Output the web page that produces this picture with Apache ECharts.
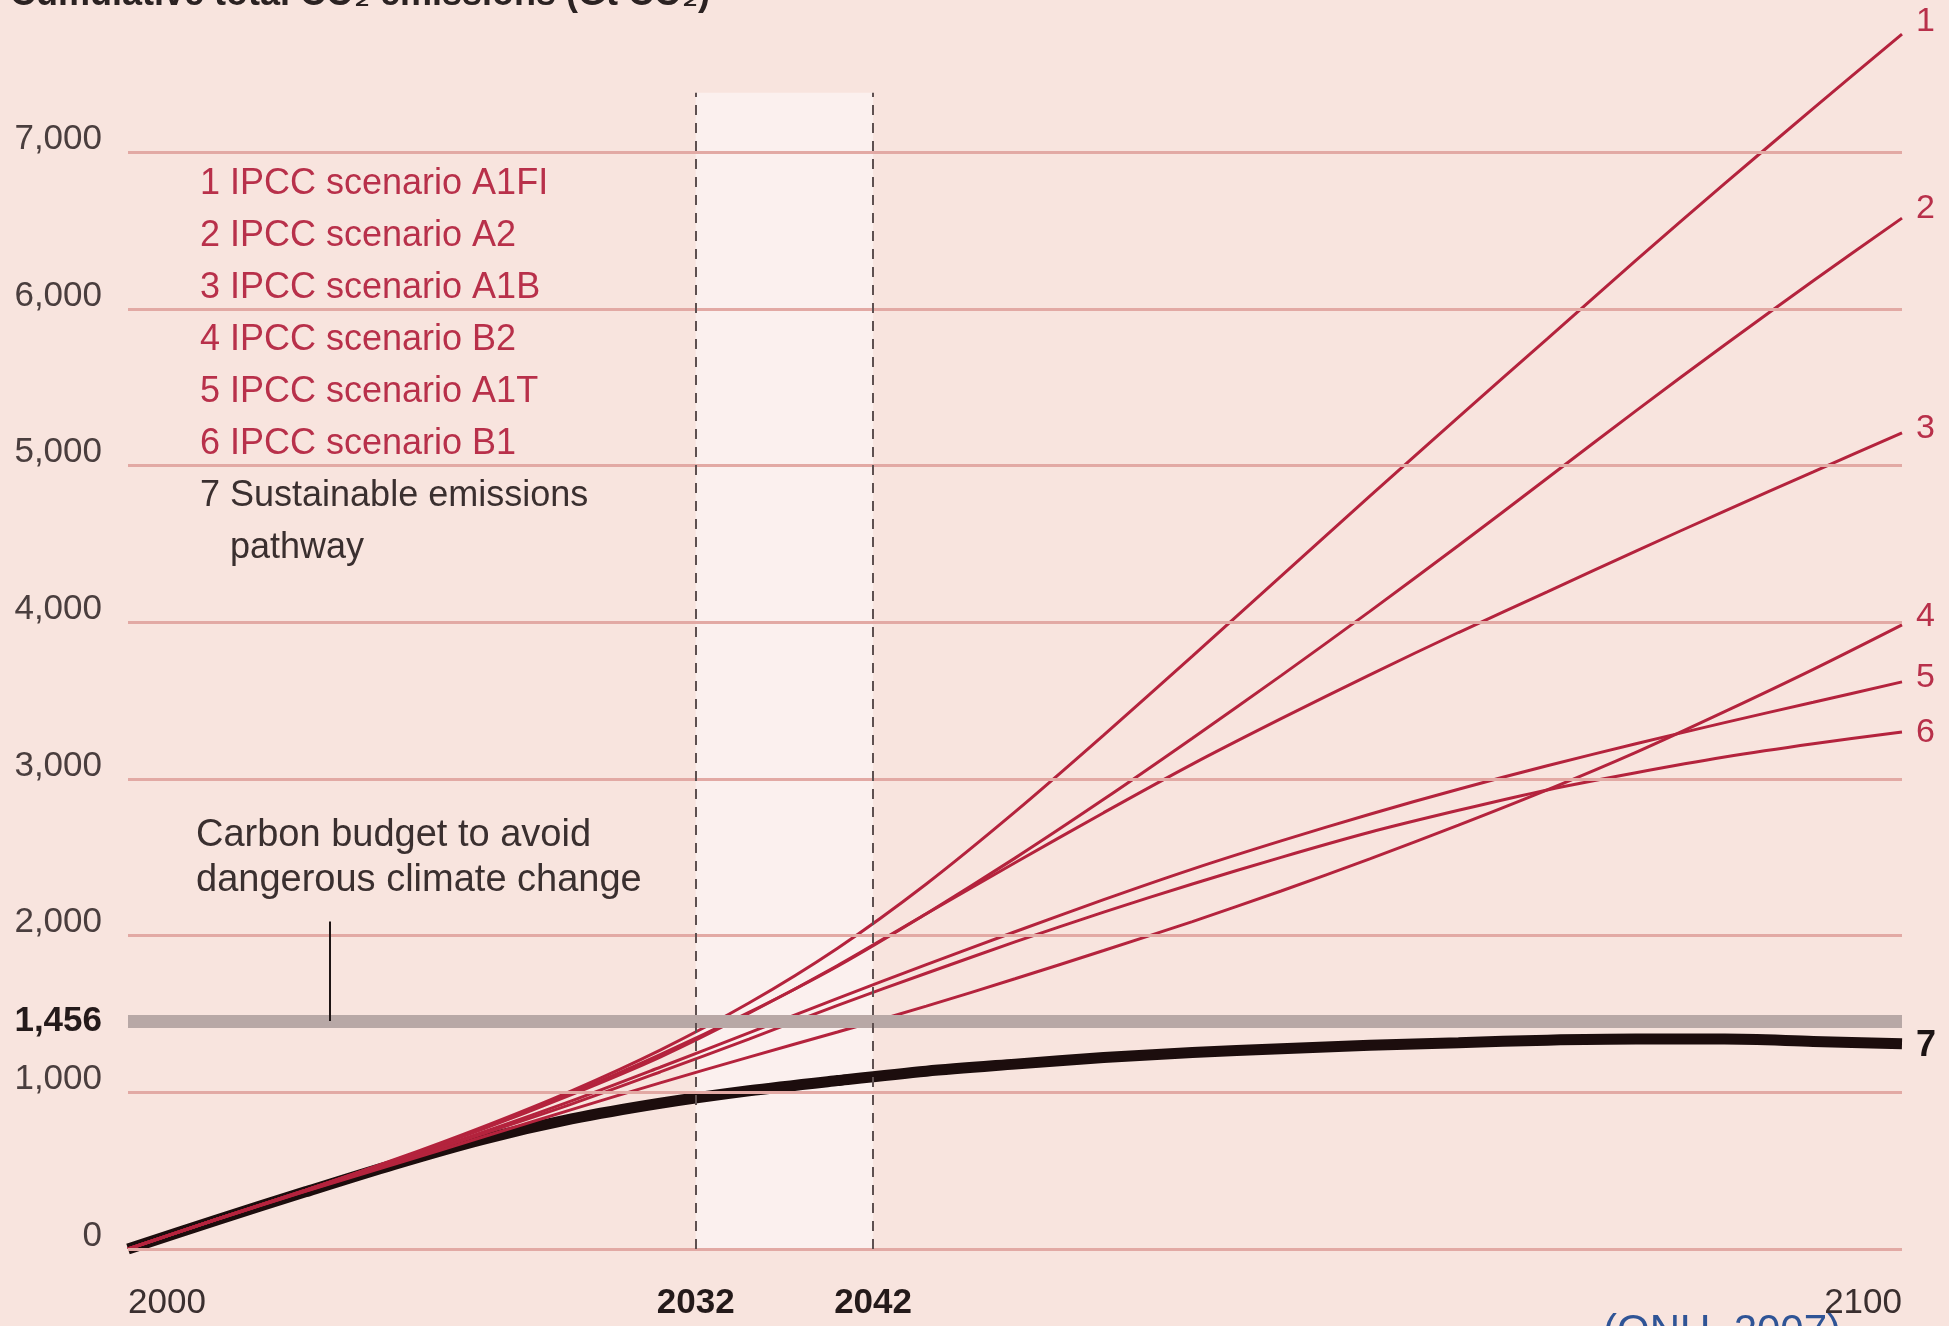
<!DOCTYPE html>
<html>
<head>
<meta charset="utf-8">
<script src="https://cdn.jsdelivr.net/npm/echarts@6/dist/echarts.min.js"></script>
<style>
html,body{margin:0;padding:0;background:#f8e4de;}
#c{width:1949px;height:1326px;}
</style>
</head>
<body>
<div id="c"></div>
<script>
// ---------------- DATA ----------------
const years = [2000, 2005, 2010, 2015, 2020, 2025, 2030, 2035, 2040, 2045, 2050,
               2055, 2060, 2065, 2070, 2075, 2080, 2085, 2090, 2095, 2100];

const scenarioA1FI = [0, 190, 375, 570, 780, 1010, 1270, 1570, 1920, 2330, 2790,
                      3280, 3785, 4295, 4805, 5310, 5810, 6310, 6800, 7280, 7755];
const scenarioA2   = [0, 190, 375, 565, 770, 995, 1240, 1510, 1805, 2140, 2495,
                      2870, 3260, 3660, 4070, 4490, 4920, 5350, 5770, 6180, 6580];
const scenarioA1B  = [0, 190, 375, 565, 765, 985, 1225, 1505, 1810, 2140, 2465,
                      2785, 3095, 3385, 3665, 3935, 4195, 4455, 4710, 4960, 5210];
const scenarioB2   = [0, 188, 368, 540, 715, 890, 1060, 1225, 1385, 1550, 1725,
                      1905, 2090, 2285, 2490, 2705, 2930, 3170, 3430, 3700, 3984];
const scenarioA1T  = [0, 190, 372, 555, 745, 945, 1160, 1380, 1600, 1815, 2025,
                      2230, 2425, 2605, 2775, 2935, 3085, 3225, 3360, 3490, 3620];
const scenarioB1   = [0, 190, 370, 550, 735, 925, 1130, 1340, 1555, 1760, 1960,
                      2150, 2330, 2500, 2660, 2800, 2930, 3040, 3140, 3225, 3300];
const sustainable  = [0, 185, 365, 540, 700, 830, 930, 1010, 1075, 1135, 1180,
                      1222, 1254, 1278, 1300, 1317, 1333, 1340, 1340, 1325, 1310];

const scenarioNames = ['IPCC scenario A1FI', 'IPCC scenario A2', 'IPCC scenario A1B',
                       'IPCC scenario B2', 'IPCC scenario A1T', 'IPCC scenario B1'];
const sustainableName = 'Sustainable emissions pathway';

const yTickValues = [0, 1000, 2000, 3000, 4000, 5000, 6000, 7000];
const xTickValues = [2000, 2032, 2042, 2100];
const boldYears = [2032, 2042];
const carbonBudget = 1456;
const windowYears = [2032, 2042];
const windowTop = 7380;
const pointerYear = 2011.4;
const pointerTop = 2090;

const titleText = 'Cumulative total CO\u2082 emissions (Gt CO\u2082)';
const budgetText = 'Carbon budget to avoid\ndangerous climate change';
const sourceText = '(ONU, 2007)';

// ---------------- STYLE ----------------
const FONT = '"Liberation Sans", Arial, sans-serif';
const RED = '#b4233d';
const RED_TEXT = '#b8304a';
const DARK = '#3a2f2f';
const GRID = '#e2a9a4';
const endOffsets = [[0, -12], [0, -10], [0, -4], [0, -8], [0, -4], [0, 1]];

const scenarios = [scenarioA1FI, scenarioA2, scenarioA1B, scenarioB2, scenarioA1T, scenarioB1];
const toPairs = vals => years.map((y, i) => [y, vals[i]]);
const fmtNum = v => String(v).replace(/\B(?=(\d{3})+(?!\d))/g, ',');

const series = [];

// helper series carrying background marks
series.push({
  type: 'line', name: '_bg', data: [], z: 1, silent: true,
  markArea: {
    silent: true,
    itemStyle: { color: '#fbf0ee' },
    data: [[{ coord: [windowYears[0], 0] }, { coord: [windowYears[1], windowTop] }]]
  },
  markLine: {
    silent: true, symbol: 'none', label: { show: false },
    data: [].concat(
      yTickValues.map(v => ({ yAxis: v, lineStyle: { color: GRID, width: 3, type: 'solid' } })),
      [{ yAxis: carbonBudget, lineStyle: { color: '#b8a8a6', width: 13, type: 'solid' } }],
      windowYears.map(x => [
        { coord: [x, 0], lineStyle: { color: '#5e5050', width: 2, type: [10, 8] } },
        { coord: [x, windowTop] }
      ]),
      [[
        { coord: [pointerYear, carbonBudget], lineStyle: { color: '#1e1414', width: 2, type: 'solid' } },
        { coord: [pointerYear, pointerTop] }
      ]]
    )
  }
});

// sustainable pathway (thick black)
series.push({
  type: 'line', name: sustainableName, data: toPairs(sustainable),
  smooth: 0.3, showSymbol: false, z: 3,
  lineStyle: { color: '#1c0d0d', width: 11, cap: 'butt' },
  itemStyle: { color: '#1c0d0d' },
  endLabel: {
    show: true, formatter: '7', color: '#1c1414', fontFamily: FONT,
    fontWeight: 'bold', fontSize: 36, distance: 14, offset: [0, 2]
  }
});

// IPCC scenarios
scenarios.forEach((vals, i) => {
  series.push({
    type: 'line', name: scenarioNames[i], data: toPairs(vals),
    smooth: 0.3, showSymbol: false, z: 4,
    lineStyle: { color: RED, width: 3 },
    itemStyle: { color: RED },
    endLabel: {
      show: true, formatter: String(i + 1), color: RED_TEXT, fontFamily: FONT,
      fontSize: 34, distance: 14, offset: endOffsets[i]
    }
  });
});

const legendData = scenarioNames.map(n => ({ name: n, textStyle: { color: RED_TEXT } }))
  .concat([{ name: sustainableName, textStyle: { color: DARK } }]);
const legendLabel = {};
scenarioNames.forEach((n, i) => { legendLabel[n] = (i + 1) + ' ' + n; });
legendLabel[sustainableName] = '7 Sustainable emissions\n   pathway';

const option = {
  backgroundColor: '#f8e4de',
  animation: false,
  grid: { left: 128, right: 47, top: 27, bottom: 77, containLabel: false },
  xAxis: {
    type: 'value', min: 2000, max: 2100,
    axisLine: { show: false }, axisTick: { show: false }, splitLine: { show: false },
    axisLabel: {
      customValues: xTickValues,
      margin: 37, fontSize: 35, fontFamily: FONT, color: DARK,
      alignMinLabel: 'left', alignMaxLabel: 'right',
      formatter: v => boldYears.includes(v) ? '{b|' + v + '}' : String(v),
      rich: { b: { fontWeight: 'bold', fontSize: 35, fontFamily: FONT, color: '#241a1a' } }
    }
  },
  yAxis: [{
    type: 'value', min: 0, max: 7800, interval: 1000,
    axisLine: { show: false }, axisTick: { show: false }, splitLine: { show: false },
    axisLabel: {
      customValues: yTickValues,
      margin: 26, fontSize: 35, fontFamily: FONT, color: '#4a3e3e',
      verticalAlign: 'bottom', lineHeight: 26,
      formatter: v => yTickValues.includes(v) ? fmtNum(v) : ''
    }
  }, {
    type: 'value', min: 0, max: 7800, position: 'left',
    axisLine: { show: false }, axisTick: { show: false }, splitLine: { show: false },
    axisLabel: {
      customValues: [carbonBudget],
      margin: 26, fontSize: 35, fontWeight: 'bold', fontFamily: FONT, color: '#241a1a',
      verticalAlign: 'middle',
      formatter: v => v === carbonBudget ? fmtNum(v) : ''
    }
  }],
  legend: {
    show: true, orient: 'vertical', left: 190, top: 153,
    icon: 'none', itemWidth: 0, itemHeight: 10, itemGap: 0,
    selectedMode: false,
    data: legendData,
    formatter: n => legendLabel[n],
    textStyle: { fontFamily: FONT, fontSize: 36, lineHeight: 52, padding: 0 }
  },
  graphic: [
    { type: 'text', x: 10, y: -23, silent: true,
      style: { text: titleText, font: 'bold 36px ' + FONT, fill: '#2b2222' } },
    { type: 'text', x: 196, y: 813, silent: true,
      style: { text: budgetText, font: '38px ' + FONT, fill: DARK, lineHeight: 45 } },
    { type: 'text', x: 1603, y: 1311, silent: true,
      style: { text: sourceText, font: '42px ' + FONT, fill: '#2f5496' } }
  ],
  series: series
};

const chart = echarts.init(document.getElementById('c'), null, { renderer: 'canvas' });
chart.setOption(option);
</script>
</body>
</html>
